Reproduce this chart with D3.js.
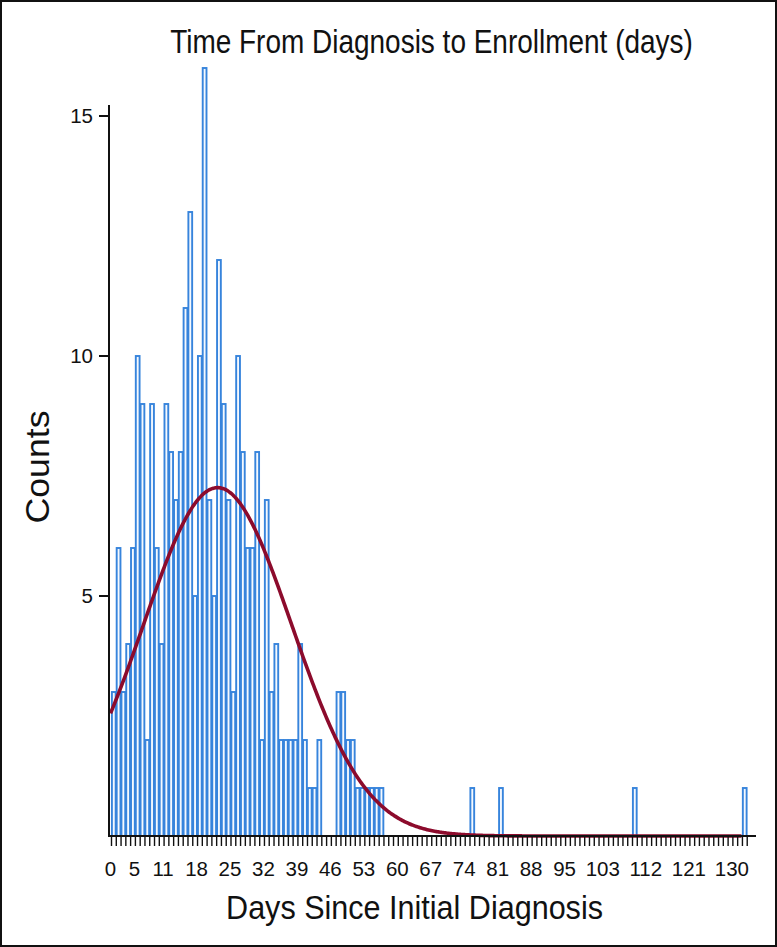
<!DOCTYPE html>
<html><head><meta charset="utf-8">
<script src="https://cdn.jsdelivr.net/npm/d3@7"></script>
<style>
html,body{margin:0;padding:0;background:#fff;}
svg{display:block;}
</style></head><body>
<svg id="chart" width="777" height="947"></svg>
<script>
// ---- data ----
const days = d3.range(0, 134);
const counts = [
 3,6,3,4,6,10,9,2,9,6,
 4,9,8,7,8,11,13,5,10,16,
 7,5,12,9,7,3,10,8,6,6,
 8,2,7,3,4,2,2,2,2,4,
 2,1,1,2,0,0,0,3,3,2,
 2,1,1,1,1,1,1,0,0,0,
 0,0,0,0,0,0,0,0,0,0,
 0,0,0,0,0,1,0,0,0,0,
 0,1,0,0,0,0,0,0,0,0,
 0,0,0,0,0,0,0,0,0,0,
 0,0,0,0,0,0,0,0,0,1,
 0,0,0,0,0,0,0,0,0,0,
 0,0,0,0,0,0,0,0,0,0,
 0,0,1,0
];
const yTicks = [5, 10, 15];
const xTickLabels = [0,5,11,18,25,32,39,46,53,60,67,74,81,88,95,103,112,121,130];
const fitMean = 22.4, fitSD = 15.5, fitN = 282;
const titleText = "Time From Diagnosis to Enrollment (days)";
const xTitle = "Days Since Initial Diagnosis";
const yTitle = "Counts";

// ---- layout ----
const svg = d3.select("#chart");
const W = 777, H = 947;
const x = d3.scaleLinear().domain([0, 134]).range([110.5, 751]);
const y = d3.scaleLinear().domain([0, 15]).range([836, 116]);

svg.append("rect").attr("x",1).attr("y",1).attr("width",W-2).attr("height",H-2)
  .attr("fill","#fff").attr("stroke","#111").attr("stroke-width",2);

const regular = "'Liberation Sans',Arial,Helvetica,sans-serif";

// bars
const data = days.map((d,i)=>({day:d, count:counts[i]})).filter(d=>d.count>0);
svg.append("g").selectAll("rect").data(data).join("rect")
  .attr("x", d=>x(d.day)+1.4)
  .attr("y", d=>y(d.count))
  .attr("width", d=>x(d.day+1)-x(d.day)-1.0)
  .attr("height", d=>y(0)-y(d.count))
  .attr("fill","#f5f9fe")
  .attr("stroke","#3784dc")
  .attr("stroke-width",1.9);

// normal curve
const curvePts = d3.range(0, 132.01, 0.25).map(t=>{
  const z = (t - fitMean)/fitSD;
  return [t, fitN / (fitSD*Math.sqrt(2*Math.PI)) * Math.exp(-0.5*z*z)];
});
svg.append("path").datum(curvePts)
  .attr("fill","none").attr("stroke","#8c0b2c").attr("stroke-width",3.6)
  .attr("d", d3.line().x(d=>x(d[0])).y(d=>y(d[1])).curve(d3.curveBasis));

// x axis
const xAxisG = svg.append("g").attr("transform","translate(0,836)");
xAxisG.append("line").attr("x1",108).attr("x2",756).attr("y1",0).attr("y2",0)
  .attr("stroke","#111").attr("stroke-width",2);
xAxisG.selectAll("line.tk").data(d3.range(0,134)).join("line").attr("class","tk")
  .attr("x1",d=>x(d)+1).attr("x2",d=>x(d)+1).attr("y1",1).attr("y2",10)
  .attr("stroke","#111").attr("stroke-width",1.4);
xAxisG.selectAll("text").data(xTickLabels).join("text")
  .attr("x",d=>x(d)).attr("y",40)
  .attr("text-anchor","middle")
  .attr("font-family",regular).attr("font-size",20.5).attr("fill","#111")
  .text(d=>d);

// y axis
const yAxisG = svg.append("g");
yAxisG.append("line").attr("x1",109).attr("x2",109).attr("y1",105).attr("y2",837)
  .attr("stroke","#111").attr("stroke-width",2);
yAxisG.selectAll("line.tk").data(yTicks).join("line").attr("class","tk")
  .attr("x1",99).attr("x2",109).attr("y1",d=>y(d)).attr("y2",d=>y(d))
  .attr("stroke","#111").attr("stroke-width",2);
yAxisG.selectAll("text").data(yTicks).join("text")
  .attr("x",93).attr("y",d=>y(d)+7)
  .attr("text-anchor","end")
  .attr("font-family",regular).attr("font-size",20.5).attr("fill","#111")
  .text(d=>d);

// titles: condensed look by horizontal scaling to the reference width
function condensedText(txt, cx, cy, size, targetW, rot) {
  const g = svg.append("g");
  const t = g.append("text").attr("text-anchor","middle")
    .attr("font-family",regular).attr("font-size",size).attr("fill","#111").text(txt);
  const natural = t.node().getComputedTextLength();
  const s = targetW / natural;
  g.attr("transform", `translate(${cx},${cy}) rotate(${rot||0}) scale(${s},1)`);
}
condensedText(titleText, 431.5, 53, 33, 523, 0);
condensedText(xTitle, 414.5, 919, 34, 377, 0);
condensedText(yTitle, 49, 467, 34, 113, -90);
</script>
</body></html>
